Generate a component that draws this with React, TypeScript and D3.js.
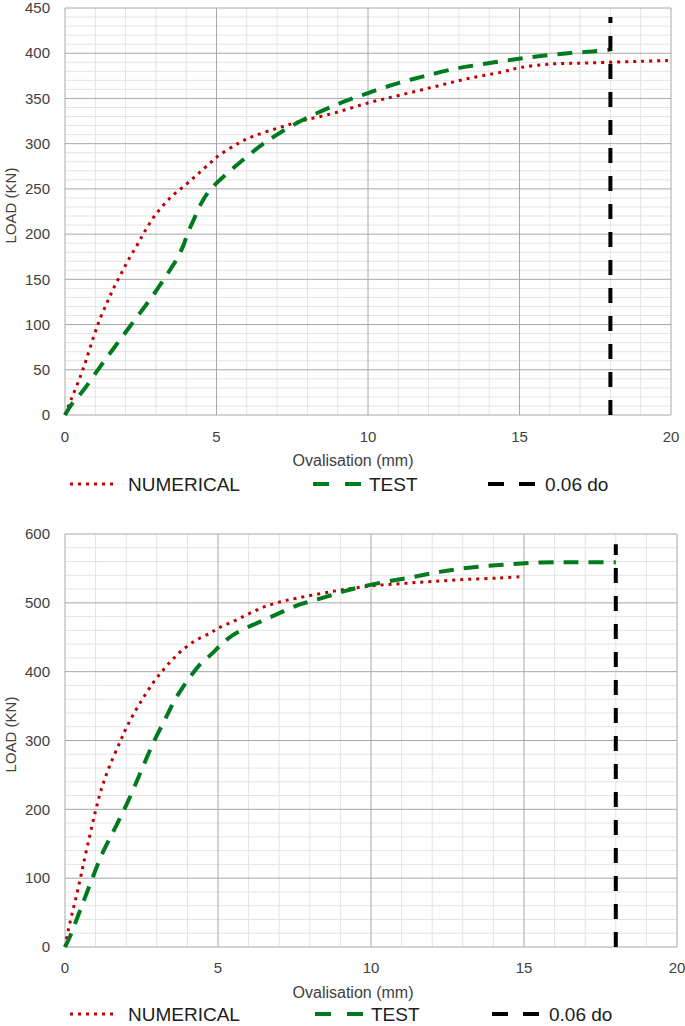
import React from "react";
import * as d3 from "d3";

const numerical1: [number, number][] = [
  [0, 0], [0.2, 17], [0.5, 42], [0.7, 61], [0.95, 87], [1.15, 106], [1.4, 125], [1.6, 140],
  [1.85, 156], [2.1, 172], [2.4, 189], [2.65, 204], [3.0, 222], [3.5, 241], [4.0, 255],
  [4.4, 267], [4.8, 279], [5.0, 285], [5.7, 300], [6.2, 308], [7.0, 317], [7.8, 325],
  [8.9, 334], [10, 345], [11.1, 354], [12.2, 363], [13.3, 372], [14.4, 379], [15, 384],
  [16, 388], [17, 389], [18, 390], [19, 391], [19.9, 392],
];
const test1: [number, number][] = [
  [0, 0], [0.2, 11], [0.6, 27], [1.15, 53], [1.7, 78], [2.3, 105], [2.9, 132], [3.4, 157],
  [3.7, 173], [3.9, 187], [4.05, 201], [4.25, 216], [4.45, 231], [4.7, 245], [5.05, 258],
  [5.45, 270], [5.8, 280], [6.2, 291], [6.55, 300], [7.0, 310], [7.5, 320], [8.2, 332],
  [9.1, 345], [10, 356], [11, 367], [11.9, 375], [12.9, 383], [13.8, 388], [14.8, 393],
  [15.7, 397], [16.6, 400], [17.4, 402], [18, 404],
];
const limit1: [number, number][] = [[18, 0], [18, 440]];

const numerical2: [number, number][] = [
  [0, 0], [0.1, 23], [0.23, 48], [0.36, 72], [0.49, 97], [0.6, 120], [0.8, 160], [1.0, 198],
  [1.2, 231], [1.45, 262], [1.8, 298], [2.0, 318], [2.3, 343], [2.6, 365], [2.9, 385],
  [3.2, 402], [3.5, 417], [3.8, 430], [4.25, 445], [4.75, 456], [5.0, 463], [5.5, 473],
  [6.0, 484], [6.5, 494], [7.0, 501], [7.6, 507], [8.8, 517], [9.9, 524], [11, 528],
  [12, 531], [13.1, 534], [14.2, 536], [14.9, 538],
];
const test2: [number, number][] = [
  [0, 0], [0.16, 15], [0.5, 54], [0.87, 97], [1.2, 134], [1.58, 168], [1.96, 202],
  [2.3, 236], [2.5, 257], [2.7, 278], [2.9, 298], [3.1, 316], [3.33, 336], [3.55, 356],
  [3.8, 374], [4.1, 393], [4.4, 410], [4.75, 424], [5.1, 439], [5.45, 452], [5.9, 463],
  [6.35, 472], [6.8, 481], [7.25, 490], [7.7, 498], [8.1, 503], [8.7, 511], [9.3, 519],
  [10.3, 529], [11.3, 537], [12.25, 545], [13.2, 551], [14.2, 555], [15.2, 558],
  [16.2, 559], [17, 559], [18, 559],
];
const limit2: [number, number][] = [[18, 0], [18, 585]];

const xTicks = [0, 5, 10, 15, 20];
const yTicks1 = [0, 50, 100, 150, 200, 250, 300, 350, 400, 450];
const yTicks2 = [0, 100, 200, 300, 400, 500, 600];
const legendLabels = ["NUMERICAL", "TEST", "0.06 do"];

const RED = "#c00000";
const GREEN = "#007a1e";
const TEXT = "#404040";
const FONT = "'Liberation Sans', Arial, sans-serif";

type ChartProps = {
  top: number;
  bottom: number;
  right: number;
  yMax: number;
  yTicks: number[];
  yMinor: number;
  numerical: [number, number][];
  test: [number, number][];
  limit: [number, number][];
  tickY: number;
  titleY: number;
  legendY: number;
  legendX: number[];
};

function Chart(p: ChartProps) {
  const left = 65;
  const x = d3.scaleLinear().domain([0, 20]).range([left, p.right]);
  const y = d3.scaleLinear().domain([0, p.yMax]).range([p.bottom, p.top]);
  const line = d3
    .line<[number, number]>()
    .x((d) => x(d[0]))
    .y((d) => y(d[1]))
    .curve(d3.curveCatmullRom.alpha(0.5));
  const straight = d3
    .line<[number, number]>()
    .x((d) => x(d[0]))
    .y((d) => y(d[1]));

  const minorX = d3.range(0, 21, 1).filter((v) => v % 5 !== 0);
  const minorY = d3.range(0, p.yMax + 1, p.yMinor).filter((v) => !p.yTicks.includes(v));
  const midY = (p.top + p.bottom) / 2;

  return (
    <g>
      {minorX.map((v) => (
        <line key={"mx" + v} x1={x(v)} x2={x(v)} y1={p.top} y2={p.bottom} stroke="#e3e3e3" strokeWidth={1} />
      ))}
      {minorY.map((v) => (
        <line key={"my" + v} x1={left} x2={p.right} y1={y(v)} y2={y(v)} stroke="#e3e3e3" strokeWidth={1} />
      ))}
      {xTicks.map((v) => (
        <line key={"gx" + v} x1={x(v)} x2={x(v)} y1={p.top} y2={p.bottom} stroke="#a8a8a8" strokeWidth={1} />
      ))}
      {p.yTicks.map((v) => (
        <line key={"gy" + v} x1={left} x2={p.right} y1={y(v)} y2={y(v)} stroke="#a8a8a8" strokeWidth={1} />
      ))}

      {p.yTicks.map((v) => (
        <text key={"ty" + v} x={50} y={y(v)} dy="0.35em" textAnchor="end" fontSize={15} fill={TEXT}>
          {v}
        </text>
      ))}
      {xTicks.map((v) => (
        <text key={"tx" + v} x={x(v)} y={p.tickY} dy="0.35em" textAnchor="middle" fontSize={15} fill={TEXT}>
          {v}
        </text>
      ))}
      <text x={353} y={p.titleY} dy="0.35em" textAnchor="middle" fontSize={16} fill={TEXT}>
        Ovalisation (mm)
      </text>
      <text
        transform={`translate(11,${midY - 6}) rotate(-90)`}
        dy="0.35em"
        textAnchor="middle"
        fontSize={15}
        fill={TEXT}
      >
        LOAD (KN)
      </text>

      <path d={line(p.numerical) || ""} fill="none" stroke={RED} strokeWidth={3} strokeDasharray="3 5" />
      <path d={line(p.test) || ""} fill="none" stroke={GREEN} strokeWidth={4} strokeDasharray="15 10" />
      <path d={straight(p.limit) || ""} fill="none" stroke="#000" strokeWidth={4} strokeDasharray="15 13" />

      {/* legend */}
      <line x1={p.legendX[0]} x2={p.legendX[0] + 44} y1={p.legendY} y2={p.legendY} stroke={RED} strokeWidth={3} strokeDasharray="3 5" />
      <text x={p.legendX[0] + 58} y={p.legendY} dy="0.35em" fontSize={19} fill="#202020">
        {legendLabels[0]}
      </text>
      <line x1={p.legendX[1]} x2={p.legendX[1] + 48} y1={p.legendY} y2={p.legendY} stroke={GREEN} strokeWidth={4} strokeDasharray="16 16" />
      <text x={p.legendX[1] + 56} y={p.legendY} dy="0.35em" fontSize={19} fill="#202020">
        {legendLabels[1]}
      </text>
      <line x1={p.legendX[2]} x2={p.legendX[2] + 47} y1={p.legendY} y2={p.legendY} stroke="#000" strokeWidth={4} strokeDasharray="16 15" />
      <text x={p.legendX[2] + 57} y={p.legendY} dy="0.35em" fontSize={19} fill="#202020">
        {legendLabels[2]}
      </text>
    </g>
  );
}

export default function App() {
  return (
    <svg
      width={685}
      height={1026}
      style={{ position: "absolute", left: 0, top: 0, background: "#fff", fontFamily: FONT }}
    >
      <rect width={685} height={1026} fill="#fff" />
      <Chart
        top={8}
        bottom={415}
        right={671}
        yMax={450}
        yTicks={yTicks1}
        yMinor={10}
        numerical={numerical1}
        test={test1}
        limit={limit1}
        tickY={437}
        titleY={460}
        legendY={484}
        legendX={[70, 313, 488]}
      />
      <Chart
        top={534}
        bottom={947}
        right={677}
        yMax={600}
        yTicks={yTicks2}
        yMinor={20}
        numerical={numerical2}
        test={test2}
        limit={limit2}
        tickY={968}
        titleY={992}
        legendY={1014}
        legendX={[70, 315, 492]}
      />
    </svg>
  );
}
